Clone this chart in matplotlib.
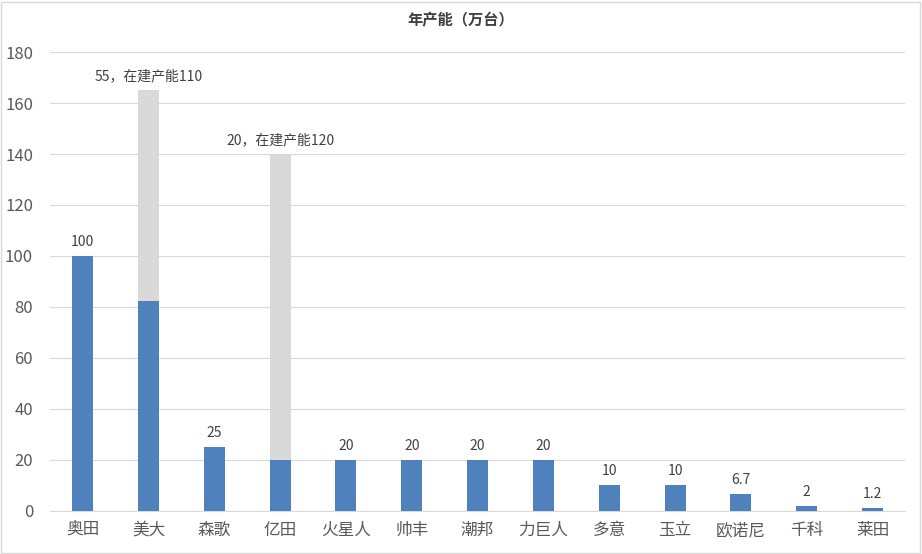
import matplotlib
matplotlib.use('Agg')
import matplotlib.pyplot as plt
import numpy as np

plt.rcParams['font.family'] = ['Noto Sans CJK SC', 'DejaVu Sans']

# Data
categories = ['奥田', '美大', '森歌', '亿田', '火星人', '帅丰', '潮邦', '力巨人',
              '多意', '玉立', '欧诺尼', '千科', '莱田']
capacity = [100, 82.5, 25, 20, 20, 20, 20, 20, 10, 10, 6.7, 2, 1.2]
building = [0, 82.5, 0, 120, 0, 0, 0, 0, 0, 0, 0, 0, 0]
labels = ['100', '55，在建产能110', '25', '20，在建产能120', '20', '20', '20', '20',
          '10', '10', '6.7', '2', '1.2']

blue = '#4f81bd'
grey = '#d9d9d9'
text_c = '#595959'

fig = plt.figure(figsize=(9.22, 5.54), dpi=100)
ax = fig.add_axes([0.054, 0.078, 0.928, 0.828])

x = np.arange(len(categories))
w = 0.32
ax.bar(x, capacity, width=w, color=blue, zorder=3)
ax.bar(x, building, width=w, bottom=capacity, color=grey, zorder=3)

totals = np.array(capacity) + np.array(building)
for xi, t, lab in zip(x, totals, labels):
    ax.annotate(lab, (xi, t), xytext=(0, 5), textcoords='offset points',
                ha='center', va='bottom', fontsize=10, color='#404040')

ax.set_xlim(-0.5, len(categories) - 0.5)
ax.set_ylim(0, 180)
ax.set_yticks(np.arange(0, 181, 20))
ax.set_xticks(x)
ax.set_xticklabels(categories)
ax.tick_params(axis='both', length=0, labelsize=12, colors=text_c)
ax.tick_params(axis='x', pad=8)
ax.tick_params(axis='y', pad=12)
ax.grid(axis='y', color='#d9d9d9', linewidth=0.8, zorder=0)
for s in ['top', 'right', 'left']:
    ax.spines[s].set_visible(False)
ax.spines['bottom'].set_color('#d9d9d9')

fig.text(0.5, 0.963, '年产能（万台）', ha='center', va='center',
         fontsize=11, fontweight='bold', color='#404040')

# light frame around the chart
fig.patches.append(plt.Rectangle((0.001, 0.002), 0.997, 0.995, transform=fig.transFigure,
                                 fill=False, edgecolor='#d9d9d9', linewidth=1))

fig.savefig('out.png', dpi=100)
